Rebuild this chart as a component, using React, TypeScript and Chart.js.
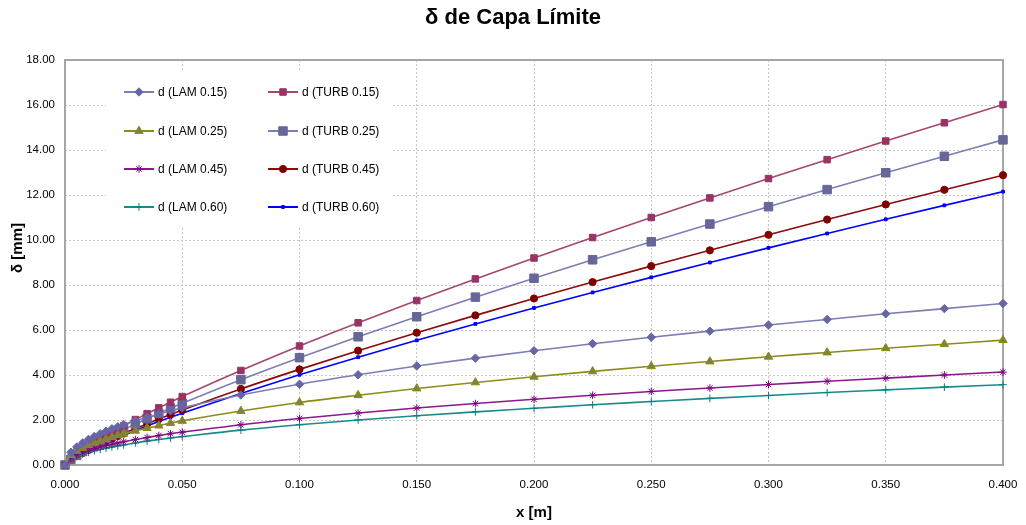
import React, { useEffect, useRef } from 'react';
import { Chart, registerables } from 'chart.js';
import { drawPoint } from 'chart.js/helpers';

Chart.register(...registerables);

const xValues = [0, 0.0025, 0.005, 0.0075, 0.01, 0.0125, 0.015, 0.0175, 0.02, 0.0225, 0.025, 0.03, 0.035, 0.04, 0.045, 0.05, 0.075, 0.1, 0.125, 0.15, 0.175, 0.2, 0.225, 0.25, 0.275, 0.3, 0.325, 0.35, 0.375, 0.4];

const lam015 = [0, 0.57, 0.80, 0.98, 1.14, 1.27, 1.39, 1.50, 1.61, 1.70, 1.80, 1.97, 2.12, 2.27, 2.41, 2.54, 3.11, 3.59, 4.01, 4.40, 4.75, 5.08, 5.39, 5.68, 5.95, 6.22, 6.47, 6.72, 6.95, 7.18];
const lam025 = [0, 0.44, 0.62, 0.76, 0.88, 0.98, 1.07, 1.16, 1.24, 1.32, 1.39, 1.52, 1.64, 1.75, 1.86, 1.96, 2.40, 2.78, 3.10, 3.40, 3.67, 3.92, 4.16, 4.39, 4.60, 4.81, 5.00, 5.19, 5.37, 5.55];
const lam045 = [0, 0.33, 0.46, 0.57, 0.65, 0.73, 0.80, 0.86, 0.92, 0.98, 1.03, 1.13, 1.22, 1.31, 1.39, 1.46, 1.79, 2.07, 2.31, 2.53, 2.73, 2.92, 3.10, 3.27, 3.42, 3.58, 3.72, 3.86, 4.00, 4.13];
const lam060 = [0, 0.28, 0.40, 0.49, 0.56, 0.63, 0.69, 0.75, 0.80, 0.85, 0.89, 0.98, 1.06, 1.13, 1.20, 1.26, 1.55, 1.79, 2.00, 2.19, 2.36, 2.52, 2.68, 2.82, 2.96, 3.09, 3.22, 3.34, 3.46, 3.57];
const turb015 = [0, 0.28, 0.48, 0.66, 0.84, 1.00, 1.16, 1.31, 1.46, 1.60, 1.74, 2.02, 2.28, 2.54, 2.79, 3.04, 4.20, 5.29, 6.32, 7.31, 8.27, 9.20, 10.11, 11.00, 11.87, 12.73, 13.57, 14.40, 15.21, 16.02];
const turb025 = [0, 0.25, 0.43, 0.60, 0.76, 0.90, 1.04, 1.18, 1.31, 1.45, 1.57, 1.82, 2.06, 2.29, 2.52, 2.74, 3.79, 4.77, 5.70, 6.59, 7.46, 8.30, 9.12, 9.92, 10.71, 11.48, 12.24, 12.99, 13.72, 14.45];
const turb045 = [0, 0.22, 0.39, 0.53, 0.67, 0.80, 0.93, 1.05, 1.17, 1.29, 1.40, 1.62, 1.83, 2.04, 2.24, 2.44, 3.38, 4.25, 5.08, 5.88, 6.65, 7.40, 8.13, 8.84, 9.54, 10.23, 10.91, 11.58, 12.23, 12.88];
const turb060 = [0, 0.21, 0.36, 0.50, 0.64, 0.76, 0.88, 0.99, 1.11, 1.22, 1.32, 1.53, 1.73, 1.93, 2.12, 2.30, 3.18, 4.01, 4.79, 5.54, 6.27, 6.98, 7.67, 8.34, 9.00, 9.65, 10.29, 10.92, 11.54, 12.15];

const seriesLabels = ['d (LAM 0.15)', 'd (LAM 0.25)', 'd (LAM 0.45)', 'd (LAM 0.60)', 'd (TURB 0.15)', 'd (TURB 0.25)', 'd (TURB 0.45)', 'd (TURB 0.60)'];
const seriesValues = [lam015, lam025, lam045, lam060, turb015, turb025, turb045, turb060];

const xTicks = [0, 0.05, 0.1, 0.15, 0.2, 0.25, 0.3, 0.35, 0.4];
const yTicks = [0, 2, 4, 6, 8, 10, 12, 14, 16, 18];

const chartTitle = 'δ de Capa Límite';
const xTitle = 'x [m]';
const yTitle = 'δ [mm]';

const FONT = "'Liberation Sans', Arial, sans-serif";

const styles = [
  { line: '#7d7db4', fill: '#6666a6', border: '#6666a6', point: 'rectRot', r: 4.2 },
  { line: '#8c8c1a', fill: '#7f7f55', border: '#8c8c00', point: 'triangle', r: 4.8 },
  { line: '#8a1a8a', fill: '#cc66cc', border: '#800080', point: 'star', r: 3.8 },
  { line: '#1a8a8a', fill: '#008080', border: '#008080', point: 'cross', r: 3.8 },
  { line: '#a6476f', fill: '#993366', border: '#993366', point: 'rect', r: 4.6 },
  { line: '#7d7db4', fill: '#666699', border: '#666699', point: 'rect', r: 6.0 },
  { line: '#8b0a0a', fill: '#800000', border: '#800000', point: 'circle', r: 3.6 },
  { line: '#0000ff', fill: '#0000ff', border: '#0000ff', point: 'rect', r: 2.0 },
];

const frameAndLegend = {
  id: 'frameAndLegend',
  beforeDatasetsDraw(chart: any) {
    const { ctx, chartArea } = chart;
    ctx.save();
    ctx.strokeStyle = '#a6a6a6';
    ctx.lineWidth = 2;
    ctx.setLineDash([]);
    ctx.strokeRect(chartArea.left, chartArea.top, chartArea.right - chartArea.left, chartArea.bottom - chartArea.top);
    // legend box
    const bx = chartArea.left + 41;
    const by = chartArea.top + 12;
    ctx.fillStyle = '#ffffff';
    ctx.fillRect(bx, by, 286, 154);
    const colX = [bx + 18, bx + 162];
    const rowY = [by + 20, by + 59, by + 97, by + 135];
    chart.data.datasets.forEach((ds: any, i: number) => {
      const col = i < 4 ? 0 : 1;
      const row = i % 4;
      const x0 = colX[col];
      const y0 = rowY[row];
      const st = styles[i];
      ctx.strokeStyle = st.line;
      ctx.lineWidth = 2;
      ctx.beginPath();
      ctx.moveTo(x0, y0);
      ctx.lineTo(x0 + 30, y0);
      ctx.stroke();
      ctx.fillStyle = st.fill;
      ctx.strokeStyle = st.border;
      ctx.lineWidth = 1;
      drawPoint(ctx, { pointStyle: st.point, radius: st.r, rotation: 0, borderWidth: 1 }, x0 + 15, y0);
      ctx.fillStyle = '#000000';
      ctx.font = `12px ${FONT}`;
      ctx.textBaseline = 'middle';
      ctx.textAlign = 'left';
      ctx.fillText(ds.label, x0 + 34, y0 + 0.5);
    });
    // axis titles
    ctx.fillStyle = '#000000';
    ctx.font = `bold 15px ${FONT}`;
    ctx.textAlign = 'center';
    ctx.textBaseline = 'middle';
    ctx.fillText(xTitle, (chartArea.left + chartArea.right) / 2, chartArea.bottom + 48);
    ctx.save();
    ctx.translate(chartArea.left - 47, chartArea.top + 188);
    ctx.rotate(-Math.PI / 2);
    ctx.fillText(yTitle, 0, 0);
    ctx.restore();
    ctx.restore();
  },
};

export default function App() {
  const ref = useRef<HTMLCanvasElement>(null);
  useEffect(() => {
    if (!ref.current) return;
    const datasets = seriesLabels.map((label, i) => {
      const st = styles[i];
      return {
        label,
        data: xValues.map((x, j) => ({ x, y: seriesValues[i][j] })),
        borderColor: st.line,
        backgroundColor: st.fill,
        pointBackgroundColor: st.fill,
        pointBorderColor: st.border,
        pointBorderWidth: 1,
        pointStyle: st.point,
        pointRadius: st.r,
        borderWidth: 1.6,
        cubicInterpolationMode: 'monotone',
        clip: false,
        showLine: true,
      };
    });
    const chart = new Chart(ref.current, {
      type: 'scatter',
      data: { datasets } as any,
      options: {
        responsive: false,
        animation: false,
        layout: { padding: { left: 0, right: 0, top: 0, bottom: 0 } },
        plugins: {
          legend: { display: false },
          tooltip: { enabled: false },
          title: {
            display: true,
            text: chartTitle,
            color: '#000',
            font: { family: FONT, size: 22, weight: 'bold' },
            padding: { top: 5, bottom: 28.6 },
          },
        },
        scales: {
          x: {
            type: 'linear',
            min: 0,
            max: 0.4,
            afterBuildTicks: (scale: any) => { scale.ticks = xTicks.map((v) => ({ value: v })); },
            afterFit: (scale: any) => { scale.height = 60; scale.paddingRight = 23; scale.paddingLeft = 0; },
            ticks: {
              color: '#000',
              font: { family: FONT, size: 11.5 },
              padding: 13,
              callback: (v: any) => Number(v).toFixed(3),
              maxRotation: 0,
            },
            grid: { color: '#c8c8c8', lineWidth: 1, drawTicks: false },
            border: { display: false, dash: [2, 2] },
          },
          y: {
            type: 'linear',
            min: 0,
            max: 18,
            afterBuildTicks: (scale: any) => { scale.ticks = yTicks.map((v) => ({ value: v })); },
            afterFit: (scale: any) => { scale.width = 65; },
            ticks: {
              color: '#000',
              font: { family: FONT, size: 11.5 },
              padding: 10,
              callback: (v: any) => Number(v).toFixed(2),
            },
            grid: { color: '#c8c8c8', lineWidth: 1, drawTicks: false },
            border: { display: false, dash: [2, 2] },
          },
        },
      },
      plugins: [frameAndLegend],
    } as any);
    return () => chart.destroy();
  }, []);
  return (
    <div style={{ position: 'absolute', left: 0, top: 0, width: 1026, height: 525, background: '#fff' }}>
      <canvas ref={ref} width={1026} height={525} />
    </div>
  );
}
